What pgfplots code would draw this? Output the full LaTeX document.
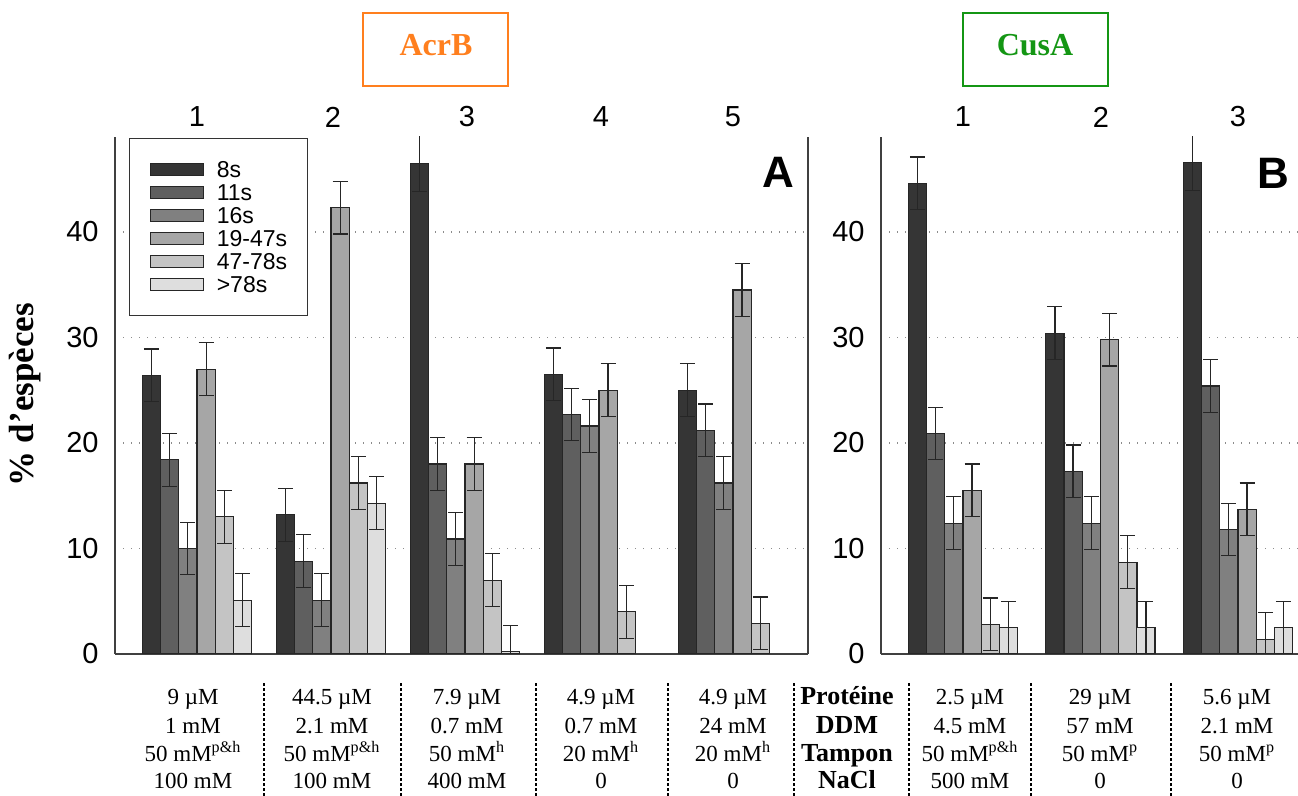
\documentclass[border=0pt]{standalone}
\usepackage{fontspec}
\setmainfont{Liberation Serif}
\setsansfont{Liberation Sans}
\usepackage{pgfplots}
\pgfplotsset{compat=1.18}
\definecolor{c1}{RGB}{53,53,53}
\definecolor{c2}{RGB}{95,95,95}
\definecolor{c3}{RGB}{128,128,128}
\definecolor{c4}{RGB}{166,166,166}
\definecolor{c5}{RGB}{196,196,196}
\definecolor{c6}{RGB}{222,222,222}
\definecolor{orng}{RGB}{255,127,30}
\definecolor{grn}{RGB}{20,150,20}
\pgfplotsset{
  bstyle/.style={ybar, bar width=9.1bp, bar shift=0pt, draw=black!85, line width=0.6bp,
    error bars/.cd, y dir=both, y explicit,
    error bar style={line width=0.6bp, black!85},
    error mark options={rotate=90, mark size=3.75bp, line width=0.6bp, black!85},
    /pgfplots/.cd,
    legend image code/.code={\draw[##1,/tikz/.cd] (0bp,-3bp) rectangle (26.5bp,3bp);}},
  s1/.style={bstyle, fill=c1},
  s2/.style={bstyle, fill=c2},
  s3/.style={bstyle, fill=c3},
  s4/.style={bstyle, fill=c4},
  s5/.style={bstyle, fill=c5},
  s6/.style={bstyle, fill=c6},
  common/.style={scale only axis, height=258.5bp, anchor=south west,
    ymin=0, ymax=49, xtick=\empty, ytick={0,10,20,30,40}, major tick length=0pt,
    axis line style={black!75, line width=0.6bp},
    ymajorgrids, grid style={black!45, line width=0.7bp, dash pattern=on 0.7bp off 3.3bp},
    yticklabel style={font=\sffamily\fontsize{14.5bp}{16bp}\selectfont, inner sep=0pt, xshift=-8bp},
    /pgf/number format/assume math mode=true},
}
\newcommand{\tcol}[5]{%
  \node[anchor=base] at (#1bp,45.5bp) {#2};
  \node[anchor=base] at (#1bp,31.4bp) {#3};
  \node[anchor=base] at (#1bp,17.2bp) {#4};
  \node[anchor=base] at (#1bp,3.75bp) {#5};}
\begin{document}
\begin{tikzpicture}
\path[use as bounding box] (0,0) rectangle (649bp,398bp);
% Panel A
\begin{axis}[common, at={(57.5bp,71bp)}, width=346.5bp,
  xmin=0.388, xmax=5.56,
  axis x line*=bottom, axis y line*=box,
  legend style={at={(0.0202,0.998)}, anchor=north west, draw=black!80, line width=0.6bp, fill=white,
    font=\sffamily\fontsize{11.5bp}{12bp}\selectfont, inner xsep=10bp, inner ysep=9.75bp,
    nodes={inner sep=0pt, text height=9.6bp, text depth=1.9bp}, column sep=6.5bp, row sep=0pt},
  legend cell align=left]
\addplot[s1] coordinates {(0.660,26.4) +- (0,2.5) (1.660,13.2) +- (0,2.5) (2.660,46.5) +- (0,2.7) (3.660,26.5) +- (0,2.5) (4.660,25.0) +- (0,2.5)};
\addlegendentry{8s}
\addplot[s2] coordinates {(0.796,18.4) +- (0,2.5) (1.796,8.8) +- (0,2.5) (2.796,18.0) +- (0,2.5) (3.796,22.7) +- (0,2.5) (4.796,21.2) +- (0,2.5)};
\addlegendentry{11s}
\addplot[s3] coordinates {(0.932,10.0) +- (0,2.5) (1.932,5.1) +- (0,2.5) (2.932,10.9) +- (0,2.5) (3.932,21.6) +- (0,2.5) (4.932,16.2) +- (0,2.5)};
\addlegendentry{16s}
\addplot[s4] coordinates {(1.068,27.0) +- (0,2.5) (2.068,42.3) +- (0,2.5) (3.068,18.0) +- (0,2.5) (4.068,25.0) +- (0,2.5) (5.068,34.5) +- (0,2.5)};
\addlegendentry{19-47s}
\addplot[s5] coordinates {(1.204,13.0) +- (0,2.5) (2.204,16.2) +- (0,2.5) (3.204,7.0) +- (0,2.5) (4.204,4.0) +- (0,2.5) (5.204,2.9) +- (0,2.5)};
\addlegendentry{47-78s}
\addplot[s6] coordinates {(1.340,5.1) +- (0,2.5) (2.340,14.3) +- (0,2.5) (3.340,0.2) +- (0,2.5)};
\addlegendentry{>78s}
\end{axis}
% Panel B
\begin{axis}[common, at={(440.5bp,71bp)}, width=208.5bp,
  xmin=0.404, xmax=3.437,
  axis x line*=bottom, axis y line*=left]
\addplot[s1] coordinates {(0.669,44.6) +- (0,2.5) (1.669,30.4) +- (0,2.5) (2.669,46.6) +- (0,2.7)};
\addplot[s2] coordinates {(0.801,20.9) +- (0,2.5) (1.801,17.3) +- (0,2.5) (2.801,25.4) +- (0,2.5)};
\addplot[s3] coordinates {(0.934,12.4) +- (0,2.5) (1.934,12.4) +- (0,2.5) (2.934,11.8) +- (0,2.5)};
\addplot[s4] coordinates {(1.066,15.5) +- (0,2.5) (2.066,29.8) +- (0,2.5) (3.066,13.7) +- (0,2.5)};
\addplot[s5] coordinates {(1.199,2.8) +- (0,2.5) (2.199,8.7) +- (0,2.5) (3.199,1.4) +- (0,2.5)};
\addplot[s6] coordinates {(1.331,2.5) +- (0,2.5) (2.331,2.5) +- (0,2.5) (3.331,2.5) +- (0,2.5)};
\end{axis}
% y label
\node[rotate=90, font=\bfseries\fontsize{17.5bp}{20bp}\selectfont] at (12.5bp,200.5bp) {\% d’espèces};
% panel letters
\node[font=\sffamily\bfseries\fontsize{22bp}{24bp}\selectfont] at (389bp,312bp) {A};
\node[font=\sffamily\bfseries\fontsize{22bp}{24bp}\selectfont] at (636.5bp,311.5bp) {B};
% group numbers
\begin{scope}[font=\sffamily\fontsize{14.5bp}{16bp}\selectfont]
\foreach \x/\t in {98.5/1,166.5/2,233.5/3,300.5/4,366.5/5,481.5/1,550.5/2,619/3}
  \node at (\x bp,339.5bp) {\t};
\end{scope}
% title boxes
\draw[orng, line width=1bp] (181.5bp,355bp) rectangle (254bp,391.5bp);
\node[text=orng, font=\bfseries\fontsize{16bp}{18bp}\selectfont] at (218bp,375.5bp) {AcrB};
\draw[grn, line width=1bp] (481.5bp,355bp) rectangle (554bp,391.5bp);
\node[text=grn, font=\bfseries\fontsize{16bp}{18bp}\selectfont] at (517.5bp,375.5bp) {CusA};
% table
\foreach \x in {132,200.5,268,334,397,454.5,515.5,585.5}
  \draw[black, line width=0.75bp, dash pattern=on 1.5bp off 1bp] (\x bp,0bp) -- (\x bp,56.5bp);
\begin{scope}[font=\fontsize{11.5bp}{14bp}\selectfont]
\tcol{96.5}{9 µM}{1 mM}{50 mM\textsuperscript{p\&h}}{100 mM}
\tcol{166}{44.5 µM}{2.1 mM}{50 mM\textsuperscript{p\&h}}{100 mM}
\tcol{233.5}{7.9 µM}{0.7 mM}{50 mM\textsuperscript{h}}{400 mM}
\tcol{300.5}{4.9 µM}{0.7 mM}{20 mM\textsuperscript{h}}{0}
\tcol{366.5}{4.9 µM}{24 mM}{20 mM\textsuperscript{h}}{0}
\tcol{423.5}{\fontsize{13bp}{14bp}\selectfont\textbf{Protéine}}{\fontsize{13bp}{14bp}\selectfont\textbf{DDM}}{\fontsize{13bp}{14bp}\selectfont\textbf{Tampon}}{\fontsize{13bp}{14bp}\selectfont\textbf{NaCl}}
\tcol{485}{2.5 µM}{4.5 mM}{50 mM\textsuperscript{p\&h}}{500 mM}
\tcol{550}{29 µM}{57 mM}{50 mM\textsuperscript{p}}{0}
\tcol{618.5}{5.6 µM}{2.1 mM}{50 mM\textsuperscript{p}}{0}
\end{scope}
\end{tikzpicture}
\end{document}
